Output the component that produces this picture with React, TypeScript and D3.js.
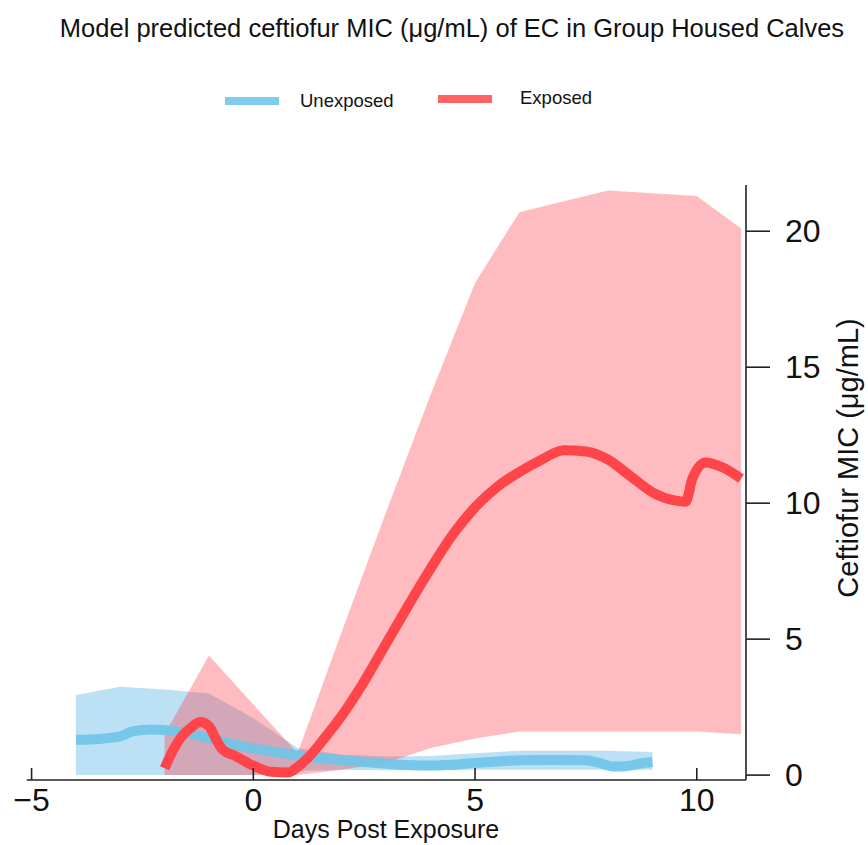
import React from "react";
import * as d3 from "d3";

// Unexposed calves: model mean and credible band
const unexposedDays = [-4, -3.5, -3, -2.7, -2.3, -2, -1.5, -1, -0.5, 0, 0.5, 1, 1.5, 2, 2.5, 3, 3.5, 4, 4.5, 5, 5.5, 6, 6.5, 7, 7.5, 7.8, 8.1, 8.4, 8.7, 9];
const unexposedMean = [1.3, 1.33, 1.42, 1.62, 1.68, 1.66, 1.55, 1.35, 1.15, 0.98, 0.85, 0.73, 0.63, 0.55, 0.48, 0.42, 0.37, 0.35, 0.38, 0.45, 0.5, 0.55, 0.56, 0.56, 0.55, 0.45, 0.32, 0.33, 0.42, 0.48];
const unexposedBandDays = [-4, -3, -2, -1, 0, 1, 2, 3, 4, 5, 6, 7, 8, 9];
const unexposedUpper = [2.95, 3.25, 3.15, 3.0, 2.1, 1.0, 0.75, 0.68, 0.7, 0.8, 0.9, 0.9, 0.9, 0.85];
const unexposedLower = [0, 0, 0, 0, 0, 0.15, 0.2, 0.18, 0.18, 0.2, 0.2, 0.2, 0.2, 0.2];

// Exposed calves
const exposedDays = [-2, -1.8, -1.6, -1.4, -1.2, -1.0, -0.85, -0.7, -0.4, 0, 0.4, 0.8, 1.0, 1.3, 1.6, 2, 2.5, 3, 3.5, 4, 4.5, 5, 5.5, 6, 6.5, 7, 7.5, 8, 8.5, 9, 9.5, 9.75, 9.9, 10.2, 10.6, 11];
const exposedMean = [0.25, 0.95, 1.45, 1.75, 1.95, 1.8, 1.35, 0.95, 0.7, 0.35, 0.12, 0.1, 0.3, 0.75, 1.35, 2.2, 3.45, 4.85, 6.25, 7.6, 8.85, 9.85, 10.6, 11.15, 11.6, 11.95, 11.9, 11.6, 11.0, 10.4, 10.1, 10.05, 10.9, 11.5, 11.3, 10.9];
const exposedBandDays = [-2, -1, 0, 1, 2, 3, 4, 5, 6, 7, 8, 9, 10, 11];
const exposedUpper = [1.5, 4.4, 2.6, 0.8, 5.3, 9.7, 14.0, 18.1, 20.7, 21.1, 21.5, 21.4, 21.3, 20.1];
const exposedLower = [0, 0, 0, 0, 0.2, 0.45, 1.0, 1.35, 1.6, 1.6, 1.6, 1.6, 1.6, 1.5];

const xTicks = [-5, 0, 5, 10];
const yTicks = [0, 5, 10, 15, 20];

const legendItems = ["Unexposed", "Exposed"];

const BLUE = "#6ec4e8";
const RED = "#ff4549";

export default function App() {
  const x = d3.scaleLinear().domain([-5.11, 11.11]).range([26.7, 746]);
  const y = d3.scaleLinear().domain([-0.18, 21.7]).range([780, 185]);

  const line = d3
    .line<[number, number]>()
    .curve(d3.curveMonotoneX)
    .x((d) => x(d[0]))
    .y((d) => y(d[1]));
  const area = d3
    .area<[number, number, number]>()
    .x((d) => x(d[0]))
    .y0((d) => y(d[1]))
    .y1((d) => y(d[2]));

  const blueBand = unexposedBandDays.map((d, i) => [d, unexposedLower[i], unexposedUpper[i]] as [number, number, number]);
  const redBand = exposedBandDays.map((d, i) => [d, exposedLower[i], exposedUpper[i]] as [number, number, number]);
  const blueLine = unexposedDays.map((d, i) => [d, unexposedMean[i]] as [number, number]);
  const redLine = exposedDays.map((d, i) => [d, exposedMean[i]] as [number, number]);

  const font = "'Liberation Sans', Arial, Helvetica, sans-serif";
  const axisY = y(-0.18);
  const axisX = x(11.11);

  return (
    <svg
      width={868}
      height={845}
      style={{ position: "absolute", left: 0, top: 0, background: "#fff" }}
      fontFamily={font}
    >
      <text x={452} y={37} textAnchor="middle" fontSize={25.5} fill="#111">
        Model predicted ceftiofur MIC (μg/mL) of EC in Group Housed Calves
      </text>

      {/* legend */}
      <rect x={225} y={97} width={54} height={8} fill="#80ccec" />
      <text x={300} y={107} fontSize={18.5} fill="#111">{legendItems[0]}</text>
      <rect x={438} y={95} width={54} height={8} fill="#ff6264" />
      <text x={520} y={104} fontSize={18.5} fill="#111">{legendItems[1]}</text>

      <path d={area(blueBand) ?? ""} fill="#64b9e6" fillOpacity={0.43} />
      <path d={area(redBand) ?? ""} fill="#ff3341" fillOpacity={0.33} />
      <path
        d={line(blueLine) ?? ""}
        fill="none"
        stroke={BLUE}
        strokeWidth={10}
        strokeOpacity={0.9}
        strokeLinejoin="round"
      />
      <path
        d={line(redLine) ?? ""}
        fill="none"
        stroke={RED}
        strokeWidth={10}
        strokeLinejoin="round"
      />

      {/* x axis */}
      <line x1={x(-5.11)} x2={axisX} y1={axisY} y2={axisY} stroke="#222" strokeWidth={1.6} />
      {xTicks.map((t) => (
        <g key={t}>
          <line x1={x(t)} x2={x(t)} y1={axisY} y2={axisY - 12} stroke="#222" strokeWidth={1.6} />
          <text x={x(t)} y={811} textAnchor="middle" fontSize={32} fill="#111">
            {d3.format("")(t)}
          </text>
        </g>
      ))}
      <text x={386} y={838} textAnchor="middle" fontSize={25} fill="#111">
        Days Post Exposure
      </text>

      {/* y axis on the right */}
      <line x1={axisX} x2={axisX} y1={y(21.7)} y2={axisY} stroke="#222" strokeWidth={1.6} />
      {yTicks.map((t) => (
        <g key={t}>
          <line x1={axisX} x2={axisX + 24} y1={y(t)} y2={y(t)} stroke="#222" strokeWidth={1.6} />
          <text x={785} y={y(t)} dy="0.35em" fontSize={32} fill="#111">
            {t}
          </text>
        </g>
      ))}
      <text
        transform={`translate(858,458) rotate(-90)`}
        textAnchor="middle"
        fontSize={29}
        fill="#111"
      >
        Ceftiofur MIC (μg/mL)
      </text>
    </svg>
  );
}
